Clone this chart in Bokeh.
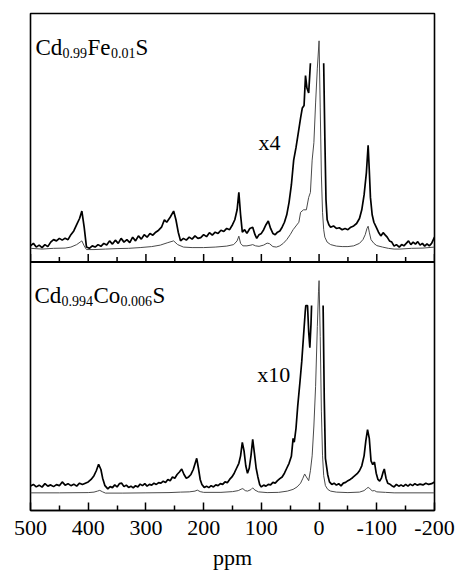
from bokeh.plotting import figure
from bokeh.models import Range1d, FixedTicker, Label, Span
from bokeh.embed import file_html
from bokeh.resources import INLINE

nan = float("nan")

# x axis (ppm, reversed)
tick_values = [500, 400, 300, 200, 100, 0, -100, -200]
tick_labels = ["500", "400", "300", "200", "100", "0", "-100", "-200"]
minor_tick_values = [450, 350, 250, 150, 50, -50, -150]

# Top panel: Cd0.99Fe0.01S, trace magnified x4 (clipped at top of central peak)
fe_x4 = [(500, 6.5), (495, 7.5), (490, 6), (485, 6.8), (480, 5.8), (475, 7), (470, 6.2), (465, 8),
         (460, 9), (455, 8.5), (450, 9.5), (445, 8.8), (440, 9.6), (435, 9), (430, 11), (425, 12.5),
         (420, 15), (415, 17.5), (411, 20.5), (407, 14), (403, 6), (398, 5.5), (393, 6.5), (388, 6),
         (383, 7), (378, 6.3), (373, 7.5), (368, 6.8), (363, 8.5), (358, 7.2), (353, 8.8), (348, 7.5),
         (343, 9.5), (338, 8), (333, 9), (328, 7.8), (323, 10), (318, 8.5), (313, 10.5), (308, 9.2),
         (303, 11), (298, 10), (293, 11.5), (288, 10.8), (283, 12), (278, 12.8), (273, 14), (268, 17),
         (264, 16), (258, 18), (252, 20.5), (248, 17), (244, 12), (240, 8.5), (235, 9.5), (230, 8.8),
         (225, 10), (220, 9.2), (215, 10.5), (210, 9.5), (205, 9.8), (200, 11), (195, 10.2), (190, 11.8),
         (185, 10.8), (180, 12), (175, 11.5), (170, 12.8), (165, 12.3), (160, 13.5), (155, 13), (150, 15),
         (146, 17), (142, 21), (139, 28), (136, 19), (133, 12), (129, 13), (125, 11.5), (120, 13.5),
         (115, 14), (111, 11), (108, 9.5), (104, 11), (100, 11.5), (96, 13), (92, 15), (88, 16.5),
         (84, 13.5), (80, 11.5), (76, 11), (72, 12), (68, 12.5), (64, 14), (60, 16), (56, 19),
         (52, 24), (48, 31), (44, 41), (40, 46), (36, 52), (32, 58), (29, 62), (26, 63), (23.5, 75),
         (21, 70), (18, 68), (15, 80), (14, nan), (-8, nan), (-8, 80), (-10, 50), (-12, 25), (-14, 17),
         (-17, 15), (-20, 14), (-25, 14.5), (-30, 13.5), (-35, 13.8), (-40, 13), (-45, 13.5), (-50, 13),
         (-55, 14), (-60, 14.5), (-65, 15.5), (-70, 17.5), (-74, 21), (-78, 27), (-82, 36), (-85, 47),
         (-87, 37), (-89, 26), (-92, 19), (-95, 16), (-99, 14), (-103, 12), (-107, 10.5), (-111, 11.8),
         (-114, 11), (-118, 10), (-122, 8.5), (-126, 8), (-130, 6.4), (-134, 7), (-139, 6), (-143, 7),
         (-147, 6.5), (-151, 7.5), (-155, 8.5), (-159, 7), (-163, 8), (-167, 7.2), (-171, 8.2),
         (-175, 6.8), (-179, 7.5), (-183, 6.4), (-187, 7.3), (-191, 6.5), (-195, 7.5), (-200, 10)]

# Top panel: unmagnified trace
fe_x1 = [(500, 5.5), (480, 5.2), (460, 5.5), (440, 5.6), (430, 6), (420, 7), (414, 8), (411, 8.5),
         (407, 6.5), (403, 5), (390, 5), (370, 5.2), (350, 5.4), (330, 5.5), (310, 5.8), (290, 6.2),
         (275, 6.8), (262, 7.8), (252, 8.5), (245, 7), (235, 6), (220, 5.8), (200, 5.8), (180, 6),
         (160, 6.4), (148, 7), (142, 8.5), (139, 10.4), (136, 7.5), (132, 6.5), (125, 6.5), (118, 6.8),
         (115, 7), (110, 6.5), (104, 6.3), (96, 6.8), (90, 7.6), (86, 7.4), (80, 6.2), (74, 6),
         (68, 6.5), (62, 7.5), (56, 9), (50, 11), (45, 13), (40, 14.5), (35, 16), (32, 20), (27, 21),
         (22, 21), (18, 26), (15, 28), (12, 41), (9, 48), (6, 64), (3, 78), (0, 89), (-2, 62),
         (-4, 35), (-6, 20), (-8, 13), (-10, 10), (-14, 8), (-20, 7), (-30, 6.4), (-40, 6.2),
         (-50, 6.2), (-60, 6.5), (-70, 7.5), (-76, 9), (-80, 11), (-83, 13.5), (-85, 14.4),
         (-87, 12), (-90, 9), (-95, 7.5), (-100, 6.6), (-110, 6), (-120, 5.5), (-130, 5.2),
         (-140, 5.2), (-160, 5.5), (-180, 5.6), (-200, 6)]

# Bottom panel: Cd0.994Co0.006S, trace magnified x10
co_x10 = [(500, 9.9), (495, 10.5), (490, 9.5), (485, 10.2), (480, 9.4), (475, 10.8), (470, 9.8),
          (465, 10.3), (460, 9.6), (455, 10.4), (450, 10), (445, 11.5), (440, 10.2), (435, 10.8),
          (430, 10), (425, 10.6), (420, 9.8), (415, 11), (410, 10.5), (405, 11), (400, 11.5),
          (395, 12.5), (390, 14), (386, 16), (382, 18.6), (378, 16.5), (375, 13), (371, 10),
          (366, 8.7), (362, 9.6), (358, 9.2), (354, 10.3), (350, 9.5), (346, 10.8), (342, 11),
          (338, 9.6), (334, 10.2), (330, 9.3), (326, 9.8), (322, 9.1), (318, 10), (314, 9.5),
          (310, 10.6), (306, 10), (302, 10.8), (298, 9.8), (294, 10.5), (290, 10.2), (286, 11),
          (282, 10.5), (278, 11.2), (274, 11), (270, 11.8), (266, 11.3), (262, 12.5), (258, 12),
          (254, 13.5), (250, 13), (246, 14.5), (242, 15.5), (238, 16.7), (234, 14.5), (230, 13),
          (226, 13.5), (222, 14.5), (218, 16.5), (214, 19.5), (212, 21), (209, 17), (206, 12.5),
          (203, 10.5), (199, 9.3), (195, 9.8), (191, 9.2), (187, 10), (183, 9.5), (179, 10.3),
          (175, 10), (171, 10.8), (167, 10.5), (163, 11.5), (159, 11.2), (155, 12.5), (151, 13.5),
          (147, 15), (143, 17), (139, 19), (136, 22), (133, 27.4), (130, 24), (127, 18), (124, 15),
          (121, 17), (118, 22), (115, 28.6), (112, 23), (109, 17), (106, 13.5), (103, 10.5),
          (100, 9.5), (96, 10.2), (92, 9.8), (88, 10.5), (84, 10.3), (80, 11.3), (76, 11), (72, 12),
          (68, 12.8), (64, 13.5), (60, 15), (56, 17), (52, 19), (48, 21.8), (45, 29), (43, 27.5),
          (40, 33), (37, 42), (33, 52), (30, 60), (27, 70), (24, 80), (23, 82.5), (20, 82.5),
          (18, 72), (16, 65.5), (14, 75), (13, 82.5), (12, nan), (-7, nan), (-7, 82.5), (-9, 45),
          (-11, 21), (-15, 14.4), (-18, 11.5), (-22, 10.5), (-26, 11), (-30, 10.2), (-34, 10.8),
          (-38, 9.9), (-42, 11), (-46, 11.3), (-50, 12), (-54, 12.5), (-58, 13.2), (-62, 14),
          (-66, 14.8), (-70, 16), (-74, 18), (-78, 22), (-81, 28), (-84, 32.5), (-87, 29), (-90, 20),
          (-93, 18.5), (-96, 19.5), (-99, 15), (-102, 12.5), (-105, 11.8), (-108, 13), (-111, 15.5),
          (-113, 16.7), (-116, 13), (-119, 11), (-122, 10.7), (-126, 10), (-130, 9.5), (-134, 10.5),
          (-138, 9.8), (-142, 10.3), (-146, 9.7), (-150, 10.5), (-154, 9.8), (-158, 10.6), (-162, 10),
          (-166, 10.8), (-170, 10.2), (-175, 10.6), (-180, 10.3), (-185, 11), (-190, 10.5),
          (-195, 10.8), (-200, 11.5)]

# Bottom panel: unmagnified trace
co_x1 = [(500, 7.1), (450, 7.1), (400, 7.2), (390, 7.4), (384, 7.8), (380, 8.1), (375, 7.5), (370, 7),
         (340, 7), (300, 7.1), (260, 7.2), (240, 7.4), (225, 7.5), (215, 7.8), (211, 8.2), (206, 7.6),
         (200, 7.3), (170, 7.3), (150, 7.6), (140, 8), (135, 8.6), (132, 8.8), (128, 8), (124, 7.8),
         (118, 8.4), (115, 9.1), (111, 8.2), (105, 7.5), (90, 7.2), (70, 7.3), (55, 7.8), (45, 8.5),
         (38, 9.5), (32, 11), (28, 13), (25, 14.7), (22, 13.5), (18, 12), (15, 16), (12, 22), (9, 34),
         (6, 50), (3, 74), (1, 88), (0, 92.5), (-2, 70), (-4, 40), (-6, 22), (-8, 14), (-11, 10),
         (-15, 8.5), (-20, 7.8), (-30, 7.4), (-50, 7.2), (-70, 7.4), (-78, 8), (-82, 8.8), (-85, 9.3),
         (-88, 8.8), (-92, 7.9), (-96, 8), (-100, 7.5), (-115, 7.3), (-130, 7.1), (-200, 7.1)]

TOP_OFFSET = 100   # top panel occupies y in [100, 200], bottom panel [0, 100]
PX_PER_UNIT = 502 / 200

SERIF = "Liberation Serif"

p = figure(width=456, height=572, output_backend="svg", toolbar_location=None,
           x_range=Range1d(500, -200), y_range=Range1d(0, 200),
           y_axis_location=None, min_border_left=30, min_border_right=22,
           min_border_top=13, min_border_bottom=57, background_fill_color="white",
           border_fill_color="white")
p.xgrid.visible = False
p.ygrid.visible = False
p.outline_line_color = "black"
p.outline_line_width = 1.6
p.outline_line_alpha = 1

ax = p.xaxis[0]
ax.ticker = FixedTicker(ticks=tick_values, minor_ticks=minor_tick_values)
ax.major_label_overrides = dict(zip(tick_values, tick_labels))
ax.major_tick_in = 8
ax.major_tick_out = 0
ax.minor_tick_in = 5
ax.minor_tick_out = 0
ax.major_tick_line_width = 1.5
ax.minor_tick_line_width = 1.5
ax.axis_line_width = 1.6
ax.major_label_text_font = SERIF
ax.major_label_text_font_size = "22px"
ax.major_label_text_color = "black"
ax.major_label_standoff = 10
ax.axis_label = "ppm"
ax.axis_label_text_font = SERIF
ax.axis_label_text_font_size = "22px"
ax.axis_label_text_font_style = "normal"
ax.axis_label_text_color = "black"
ax.axis_label_standoff = 7

# separator between the two panels with its inward ticks
p.add_layout(Span(location=TOP_OFFSET, dimension="width", line_color="black", line_width=2))
p.segment(x0=tick_values, y0=[TOP_OFFSET] * len(tick_values), x1=tick_values,
          y1=[TOP_OFFSET + 8 / PX_PER_UNIT] * len(tick_values), line_color="black", line_width=1.5)
p.segment(x0=minor_tick_values, y0=[TOP_OFFSET] * len(minor_tick_values), x1=minor_tick_values,
          y1=[TOP_OFFSET + 5 / PX_PER_UNIT] * len(minor_tick_values), line_color="black", line_width=1.5)

def xs(pairs):
    return [a for a, _ in pairs]

def ys(pairs, off=0):
    return [b + off for _, b in pairs]

thin_color = "#4a4a4a"
p.line(xs(co_x1), ys(co_x1), line_color=thin_color, line_width=1)
p.line(xs(co_x10), ys(co_x10), line_color="black", line_width=1.7)
p.line(xs(fe_x1), ys(fe_x1, TOP_OFFSET), line_color=thin_color, line_width=1)
p.line(xs(fe_x4), ys(fe_x4, TOP_OFFSET), line_color="black", line_width=1.7)

def lbl(text, x, y, size, dx=0, align="left"):
    p.add_layout(Label(x=x, y=y, x_offset=dx, text=text, text_font=SERIF, text_font_size=size,
                       text_align=align, text_baseline="alphabetic", text_color="black"))

# panel titles with subscripts (pixel offsets from left frame edge)
big, small = "23px", "14px"
lbl("Cd", 500, TOP_OFFSET + 86.5, big, 5)
lbl("0.99", 500, TOP_OFFSET + 84.3, small, 32)
lbl("Fe", 500, TOP_OFFSET + 86.5, big, 57)
lbl("0.01", 500, TOP_OFFSET + 84.3, small, 80.5)
lbl("S", 500, TOP_OFFSET + 86.5, big, 105)

lbl("Cd", 500, 86.5, big, 4)
lbl("0.994", 500, 84.3, small, 31)
lbl("Co", 500, 86.5, big, 63)
lbl("0.006", 500, 84.3, small, 90)
lbl("S", 500, 86.5, big, 122)

lbl("x4", 105, TOP_OFFSET + 48, "22px")
lbl("x10", 107, 54.6, "22px")

open("out.html", "w").write(file_html(p, INLINE))
